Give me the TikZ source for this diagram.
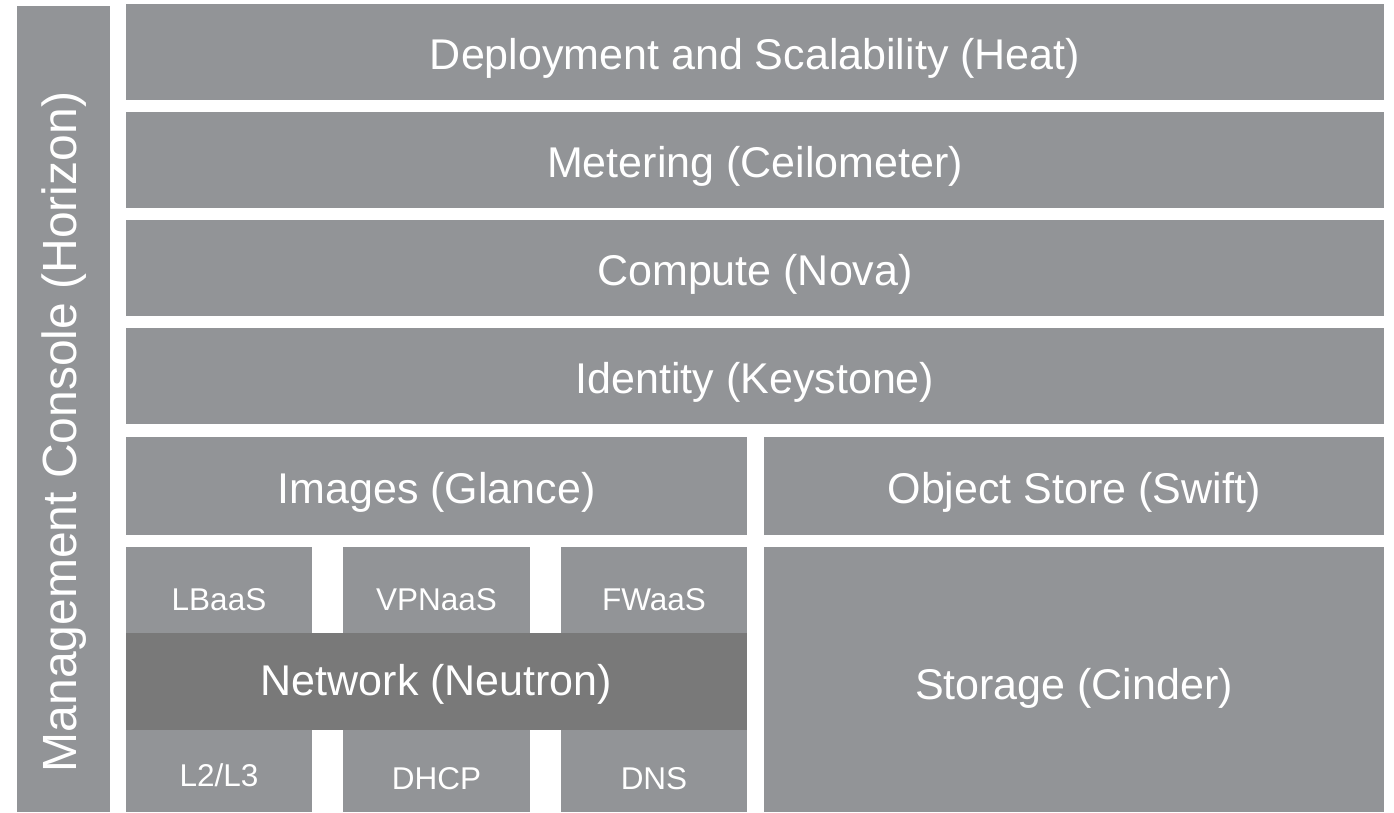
\documentclass[tikz,border=0pt]{standalone}
\usepackage{fontspec}
\setmainfont{Liberation Sans}
\definecolor{lightgrey}{HTML}{929497}
\definecolor{darkgrey}{HTML}{797979}
\tikzset{
  blk/.style={fill=lightgrey, draw=none, inner sep=0pt},
  dblk/.style={fill=darkgrey, draw=none, inner sep=0pt},
  big/.style={text=white, font=\fontsize{43}{48}\selectfont, inner sep=0pt},
  small/.style={text=white, font=\fontsize{31.5}{36}\selectfont, inner sep=0pt},
  vert/.style={text=white, font=\fontsize{48}{54}\selectfont, inner sep=0pt, rotate=90},
}
% \mkblk{name}{x1}{y1}{x2}{y2}{style}
\newcommand{\mkblk}[6]{\node[#6, minimum width={(#4-#2)*1pt}, minimum height={(#5-#3)*1pt}] (#1) at ({(#2+#4)/2},{(#3+#5)/2}) {};}
\begin{document}
\begin{tikzpicture}[x=1pt,y=-1pt]
\useasboundingbox (0,0) rectangle (1394,812);
\mkblk{horizon}{17}{6}{110}{812}{blk}
\mkblk{heat}{126}{4}{1384}{100}{blk}
\mkblk{meter}{126}{112}{1384}{208}{blk}
\mkblk{nova}{126}{220}{1384}{316}{blk}
\mkblk{keystone}{126}{328}{1384}{424}{blk}
\mkblk{glance}{126}{437}{747}{535}{blk}
\mkblk{swift}{764}{437}{1384}{535}{blk}
\mkblk{lbaas}{126}{547}{312}{633}{blk}
\mkblk{vpnaas}{343}{547}{530}{633}{blk}
\mkblk{fwaas}{561}{547}{747}{633}{blk}
\mkblk{l23}{126}{730}{312}{812}{blk}
\mkblk{dhcp}{343}{730}{530}{812}{blk}
\mkblk{dns}{561}{730}{747}{812}{blk}
\mkblk{neutron}{126}{633}{747}{730}{dblk}
\mkblk{cinder}{764}{547}{1384}{812}{blk}

\node[vert] (thorizon) at (64,432) {Management Console (Horizon)};
\node[big, yshift=-6pt] (theat) at (heat) {Deployment and Scalability (Heat)};
\node[big, yshift=-6pt] (tmeter) at (meter) {Metering (Ceilometer)};
\node[big, yshift=-6pt] (tnova) at (nova) {Compute (Nova)};
\node[big, yshift=-6pt] (tkeystone) at (keystone) {Identity (Keystone)};
\node[big, yshift=-6pt] (tglance) at (glance) {Images (Glance)};
\node[big, yshift=-6pt] (tswift) at (swift) {Object Store (Swift)};
\node[small, yshift=-10pt] (tlbaas) at (lbaas) {LBaaS};
\node[small, yshift=-10pt] (tvpnaas) at (vpnaas) {VPNaaS};
\node[small, yshift=-10pt] (tfwaas) at (fwaas) {FWaaS};
\node[big, yshift=-3pt] (tneutron) at (neutron) {Network (Neutron)};
\node[small, yshift=-4pt] (tl23) at (l23) {L2/L3};
\node[small, yshift=-8pt] (tdhcp) at (dhcp) {DHCP};
\node[small, yshift=-8pt] (tdns) at (dns) {DNS};
\node[big, yshift=-9pt] (tcinder) at (cinder) {Storage (Cinder)};
\end{tikzpicture}
\end{document}
